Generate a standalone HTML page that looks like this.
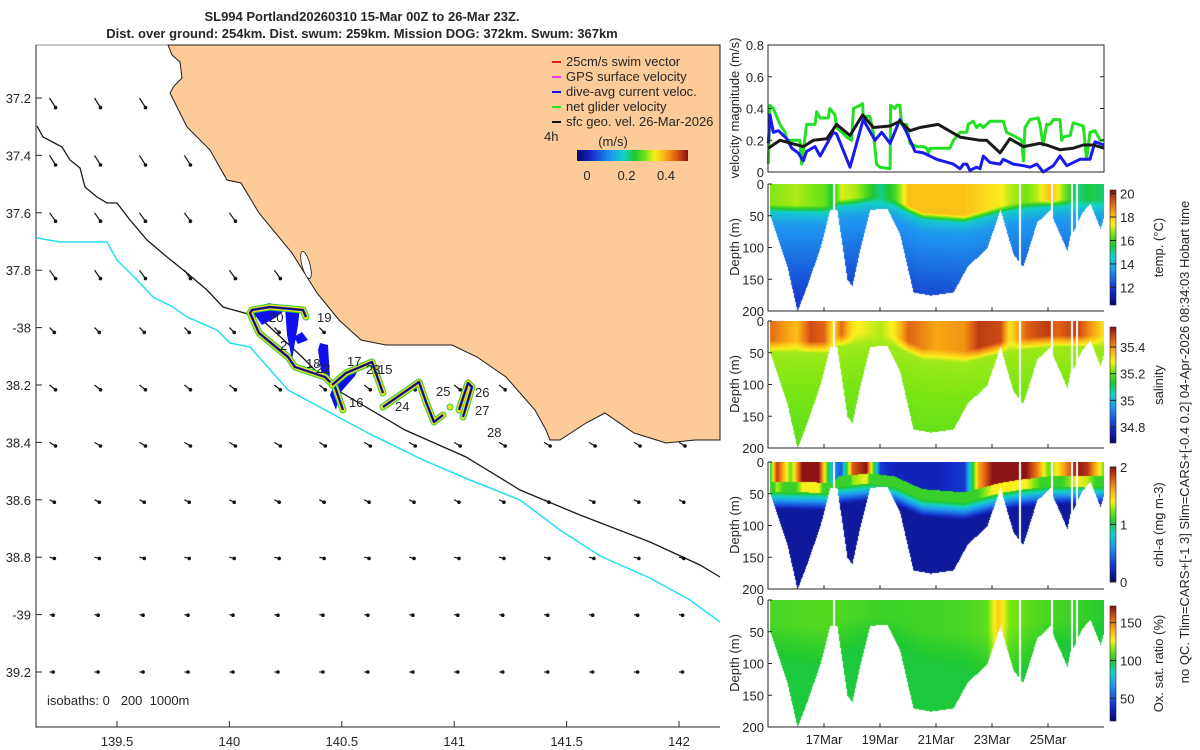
<!DOCTYPE html>
<html><head><meta charset="utf-8">
<style>
html,body{margin:0;padding:0;background:#fff;}
#root{position:relative;width:1200px;height:750px;overflow:hidden;font-family:"Liberation Sans",sans-serif;}
canvas{position:absolute;}
svg{position:absolute;left:0;top:0;}
text{font-family:"Liberation Sans",sans-serif;fill:#262626;font-size:13px;}
</style></head>
<body>
<div id="root">
<canvas id="hm0" width="336" height="127" style="left:768px;top:184px"></canvas>
<canvas id="hm1" width="336" height="127" style="left:768px;top:321px"></canvas>
<canvas id="hm2" width="336" height="127" style="left:768px;top:462px"></canvas>
<canvas id="hm3" width="336" height="127" style="left:768px;top:600px"></canvas>
<canvas id="cb0" width="6" height="115" style="left:1110px;top:190px"></canvas>
<canvas id="cb1" width="6" height="116" style="left:1110px;top:327px"></canvas>
<canvas id="cb2" width="6" height="115" style="left:1110px;top:467px"></canvas>
<canvas id="cb3" width="6" height="115" style="left:1110px;top:606px"></canvas>
<svg id="svg" width="1200" height="750" xmlns="http://www.w3.org/2000/svg">
<text x="362" y="21" text-anchor="middle" font-weight="bold">SL994 Portland20260310 15-Mar 00Z to 26-Mar 23Z.</text>
<text x="362" y="38" text-anchor="middle" font-weight="bold">Dist. over ground: 254km. Dist. swum: 259km. Mission DOG: 372km. Swum: 367km</text>
<g id="map"></g>
<g id="right"></g>
<text transform="translate(1189,442) rotate(-90)" text-anchor="middle" font-size="14">no QC. Tlim=CARS+[-1 3] Slim=CARS+[-0.4 0.2] 04-Apr-2026 08:34:03 Hobart time</text>
</svg>
<canvas id="cbm" width="111" height="11" style="left:577px;top:150px"></canvas>
</div>
<script>
// ---------- data ----------
const velGreenDays=[0.01,0.07,0.19,0.43,0.61,0.67,1.14,1.20,1.38,1.68,1.74,1.86,2.15,2.21,2.39,2.45,2.57,2.81,2.99,3.05,3.29,3.38,3.40,3.64,3.76,3.88,4.0,4.36,4.38,4.54,4.6,4.71,4.77,4.95,5.07,5.31,5.55,5.67,5.73,5.79,6.5,6.62,6.86,7.1,7.15,7.33,7.45,7.57,7.69,7.93,8.4,8.52,8.76,9.06,9.12,9.18,9.36,9.65,9.71,9.83,9.95,10.07,10.19,10.43,10.49,10.55,10.79,10.9,11.26,11.38,11.5,11.68,11.86,12.0];
const velGreen=[0.05,0.42,0.4,0.3,0.25,0.2,0.2,0.05,0.3,0.3,0.38,0.34,0.34,0.4,0.36,0.28,0.26,0.22,0.2,0.4,0.42,0.43,0.35,0.35,0.25,0.05,0.03,0.02,0.42,0.4,0.42,0.42,0.3,0.3,0.18,0.16,0.16,0.15,0.12,0.15,0.15,0.2,0.25,0.25,0.3,0.32,0.28,0.3,0.28,0.32,0.32,0.25,0.23,0.2,0.07,0.28,0.33,0.34,0.3,0.17,0.3,0.3,0.33,0.33,0.2,0.22,0.23,0.31,0.29,0.08,0.25,0.26,0.2,0.2];
const velBlueDays=[0.01,0.07,0.19,0.37,0.67,0.85,1.08,1.26,1.38,1.68,1.86,2.33,2.45,2.93,3.4,3.82,4.06,4.36,4.71,4.95,5.25,5.55,6.02,6.62,6.86,6.98,7.1,7.21,7.45,7.57,7.69,7.93,8.29,8.4,8.52,8.76,9.12,9.36,9.6,9.83,10.19,10.43,10.67,11.14,11.5,11.68,12.0];
const velBlue=[0.18,0.36,0.25,0.26,0.21,0.15,0.12,0.07,0.13,0.16,0.1,0.25,0.24,0.03,0.33,0.2,0.25,0.18,0.33,0.25,0.13,0.12,0.08,0.05,0.02,0.05,0.05,0.01,0.03,0.02,0.1,0.06,0.05,0.08,0.07,0.05,0.04,0.03,0.05,0.0,0.04,0.1,0.04,0.08,0.08,0.19,0.17];
const velBlackDays=[0.01,0.43,1.26,1.62,2.1,2.45,2.93,3.38,3.76,4.36,4.71,5.07,5.43,6.08,6.86,7.21,7.57,7.81,8.29,8.64,9.12,9.71,9.95,10.43,10.9,11.26,11.62,12.0];
const velBlack=[0.15,0.2,0.16,0.2,0.21,0.3,0.23,0.36,0.28,0.29,0.32,0.26,0.28,0.3,0.22,0.21,0.2,0.2,0.12,0.21,0.16,0.18,0.17,0.14,0.15,0.17,0.17,0.15];
const velTicks=[0,0.2,0.4,0.6,0.8];
const depthTicks=[0,50,100,150,200];
const dateTickDays=[2,4,6,8,10];
const dateTickLabels=['17Mar','19Mar','21Mar','23Mar','25Mar'];
const profDays=[0.0,0.07,0.68,1.04,1.39,1.86,2.21,2.46,2.82,3.0,3.29,3.64,4.25,4.71,5.18,5.79,6.61,7.11,7.82,8.29,8.75,9.1,9.6,10.07,10.18,10.68,10.79,10.89,11.21,11.5,11.86,12.0];
const profDepth=[35,50,130,200,160,100,40,40,150,160,100,40,38,80,170,175,170,130,100,40,110,130,60,40,55,105,80,75,45,30,70,50];
const gapDays=[0.0,2.33,8.97,10.12,10.85,11.02];
const mldDays=[0,2.3,2.5,3.6,4.5,5.5,7,8.3,9,10,12];
const mldDepth=[38,40,30,25,30,50,55,40,35,30,30];
const tempSurfDays=[0,1,2,2.3,2.6,3.2,4,4.5,5,7,8.3,8.6,9.2,9.6,10.1,10.3,11,11.4,12];
const tempSurf=[16.6,16.9,16.4,15.5,17.2,16.8,15.0,16,18.0,18.0,17.4,17,16.5,17,18.2,17.5,15,15.5,15.2];
const salSurfDays=[0,1,1.5,2,2.3,2.6,3,4,4.5,5,6,7,7.5,8.3,8.6,9.2,9.6,10,10.3,11,11.5,12];
const salSurf=[35.45,35.35,35.48,35.45,35.3,35.45,35.3,35.25,35.3,35.45,35.38,35.4,35.5,35.48,35.3,35.45,35.48,35.5,35.45,35.5,35.4,35.3];
const chlSurfDays=[0,0.3,0.8,1.2,1.8,2.3,2.6,3.0,3.5,4.0,4.5,5,6,7,7.5,8.0,8.5,9.2,9.6,10,10.3,11,11.4,12];
const chlSurf=[0.8,1.9,1.2,2.0,2.0,0.6,0.4,1.8,2.0,0.3,0.2,0.2,0.2,0.3,1.6,2.0,2.0,2.0,1.7,1.2,1.4,2.0,1.9,1.2];
const oxSurfDays=[0,2,4,6,7,7.8,8.2,8.6,9.2,10,11,12];
const oxSurf=[106,108,104,105,106,110,135,115,110,106,104,100];

// ---------- helpers ----------
function interp(xs,ys,x){if(x<=xs[0])return ys[0];for(let i=1;i<xs.length;i++){if(x<=xs[i]){const t=(x-xs[i-1])/(xs[i]-xs[i-1]||1);return ys[i-1]+t*(ys[i]-ys[i-1]);}}return ys[ys.length-1];}
const stops=[[0,[10,10,110]],[0.12,[20,40,200]],[0.3,[30,150,240]],[0.42,[20,210,200]],[0.52,[30,200,50]],[0.62,[120,230,20]],[0.7,[250,240,30]],[0.8,[250,170,20]],[0.9,[220,90,20]],[1,[140,20,20]]];
function cmap(t){t=Math.max(0,Math.min(1,t));for(let i=1;i<stops.length;i++){if(t<=stops[i][0]){const a=stops[i-1],b=stops[i];const f=(t-a[0])/(b[0]-a[0]);return [0,1,2].map(k=>Math.round(a[1][k]+f*(b[1][k]-a[1][k])));}}return stops[stops.length-1][1];}
const NS='http://www.w3.org/2000/svg';
function el(tag,attrs,parent){const e=document.createElementNS(NS,tag);for(const k in attrs)e.setAttribute(k,attrs[k]);parent.appendChild(e);return e;}
function txt(s,x,y,anchor,parent,extra){const t=el('text',Object.assign({x:x,y:y,'text-anchor':anchor||'start'},extra||{}),parent);t.textContent=s;return t;}

// ---------- right panels ----------
const X0=768,X1=1104,PXDAY=28;
const xDay=d=>X0+d*PXDAY;
const R=document.getElementById('right');
const VY0=172,VY1=45;
const yVel=v=>VY0-(v/0.8)*(VY0-VY1);
function line(days,vals,color,name,w){const pts=days.map((d,i)=>xDay(Math.min(d,12)).toFixed(1)+','+yVel(vals[i]).toFixed(1)).join(' ');const p=el('polyline',{points:pts,fill:'none',stroke:color,'stroke-width':w,'stroke-linejoin':'round'},R);}
line(velGreenDays,velGreen,'#22e022','net-glider-speed-line',3);
line(velBlueDays,velBlue,'#1a1aee','dive-avg-current-line',3);
line(velBlackDays,velBlack,'#1a1a1a','geostrophic-speed-line',3);
const vb=el('rect',{x:X0,y:VY1,width:X1-X0,height:VY0-VY1,fill:'none',stroke:'#262626','stroke-width':1},R);

velTicks.forEach(v=>{const y=yVel(v);el('line',{x1:X0,x2:X0+4,y1:y,y2:y,stroke:'#262626'},R);el('line',{x1:X1-4,x2:X1,y1:y,y2:y,stroke:'#262626'},R);const t=txt(String(v),764,y+5,'end',R,{'font-size':'13.5'});});
const vyl=txt('velocity magnitude (m/s)',0,0,'middle',R,{transform:'translate(739,108) rotate(-90)','font-size':'14'});


const panels=[
 {top:184,id:'hm0',cb:'cb0',lo:10.5,hi:20.3,ticks:[12,14,16,18,20],lab:'temp. (°C)',name:'temp'},
 {top:321,id:'hm1',cb:'cb1',lo:34.68,hi:35.55,ticks:[34.8,35,35.2,35.4],lab:'salinity',name:'salinity'},
 {top:462,id:'hm2',cb:'cb2',lo:0,hi:2,ticks:[0,1,2],lab:'chl-a (mg m-3)',name:'chl'},
 {top:600,id:'hm3',cb:'cb3',lo:20,hi:172,ticks:[50,100,150],lab:'Ox. sat. ratio (%)',name:'oxygen'}];
const cbTop={cb0:190,cb1:327,cb2:467,cb3:606},cbH={cb0:115,cb1:116,cb2:115,cb3:115};
function valueAt(p,day,d){
 const m=interp(mldDays,mldDepth,day);
 if(p===0){const s=interp(tempSurfDays,tempSurf,day);
  if(d<m-6)return s; if(d<m+6)return s+(14.4-s)*(d-(m-6))/12; if(d<m+25)return 14.4-(d-m-6)*0.9/19; return Math.max(12.0,13.5-(d-m-25)*1.3/100);}
 if(p===1){const s=interp(salSurfDays,salSurf,day);
  if(d<m-8)return s; if(d<m+10)return s+(35.24-s)*(d-(m-8))/18; return 35.24-(d-m-10)*0.05/150;}
 if(p===2){const s=interp(chlSurfDays,chlSurf,day);
  if(d<m-8)return s; if(d<m+8)return Math.max(1.1,s*0.7); if(d<m+35)return 1.1-(d-m-8)*0.95/27; return 0.12;}
 const s=interp(oxSurfDays,oxSurf,day);
 if(d<m)return s; return Math.max(98,s-(d-m)*0.15);
}
panels.forEach((P,pi)=>{
 const c=document.getElementById(P.id).getContext('2d');const img=c.createImageData(336,127);
 for(let x=0;x<336;x++){const day=x/PXDAY;const bot=interp(profDays,profDepth,day);
  let isGap=gapDays.some(g=>Math.abs(day-g)<0.04);
  for(let y=0;y<127;y++){const d=y/0.635;if(isGap||d>bot)continue;const v=valueAt(pi,day,d);const col=cmap((v-P.lo)/(P.hi-P.lo));const o=(y*336+x)*4;img.data[o]=col[0];img.data[o+1]=col[1];img.data[o+2]=col[2];img.data[o+3]=255;}}
 c.putImageData(img,0,0);
 const cc=document.getElementById(P.cb).getContext('2d');const h=cbH[P.cb];
 for(let y=0;y<h;y++){const col=cmap(1-y/(h-1));cc.fillStyle='rgb('+col.join(',')+')';cc.fillRect(0,y,6,1);}
 const yD=d=>P.top+d*0.635;
 const box=el('path',{d:`M${X0},${P.top} V${P.top+127} H${X1}`,fill:'none',stroke:'#262626'},R);
 
 depthTicks.forEach(dv=>{const y=yD(dv);el('line',{x1:X0,x2:X0+4,y1:y,y2:y,stroke:'#262626'},R);const t=txt(String(dv),764,y+5,'end',R,{'font-size':'13.5'});});
 dateTickDays.forEach(dd=>{el('line',{x1:xDay(dd),x2:xDay(dd),y1:P.top+127,y2:P.top+123,stroke:'#262626'},R);});
 const yl=txt('Depth (m)',0,0,'middle',R,{transform:`translate(739,${P.top+63}) rotate(-90)`,'font-size':'14'});
 
 const ct=cbTop[P.cb];
 P.ticks.forEach(tv=>{const y=ct+h-(tv-P.lo)/(P.hi-P.lo)*h;el('line',{x1:1110,x2:1116,y1:y,y2:y,stroke:'#262626'},R);const t=txt(String(tv),1120,y+5,'start',R,{'font-size':'14'});});
 el('rect',{x:1110,y:ct,width:6,height:h,fill:'none',stroke:'#262626','stroke-width':0.6},R);
 const cl=txt(P.lab,0,0,'middle',R,{transform:`translate(1163,${ct+h/2}) rotate(-90)`,'font-size':'14'});
 
});
dateTickDays.forEach((dd,i)=>{const t=txt(dateTickLabels[i],xDay(dd),744,'middle',R,{'font-size':'14'});});

// ---------- map ----------
const M=document.getElementById('map');
const lonX=lon=>117+(lon-139.5)*224.8;
const latY=lat=>98+(lat-37.2)*287;
const coast=[[168,45],[172,55],[180,62],[182,78],[174,86],[170,93],[187,127],[210,150],[227,180],[241,183],[259,213],[292,253],[317,293],[339,320],[361,340],[386,345],[452,345],[477,357],[506,377],[535,410],[546,430],[550,440],[560,440],[586,423],[605,413],[634,433],[666,443],[695,440],[720,440],[720,45]];
const land=el('polygon',{points:coast.map(p=>p.join(',')).join(' '),fill:'#fccb98',stroke:'#1a1a1a','stroke-width':1},M);

el('ellipse',{cx:306,cy:265,rx:4,ry:14,fill:'#fff',stroke:'#1a1a1a','stroke-width':0.8,transform:'rotate(-15 306 265)'},M);
const iso200=[[37,126],[43,137],[62,147],[70,160],[80,168],[85,187],[97,197],[107,203],[117,203],[130,220],[147,240],[167,257],[187,273],[207,290],[223,307],[259,317],[300,355],[332,387],[405,430],[466,457],[520,490],[580,515],[650,542],[700,565],[720,577]];
const p2=el('polyline',{points:iso200.map(p=>p.join(',')).join(' '),fill:'none',stroke:'#1a1a1a','stroke-width':1.3},M);

const iso1000=[[37,238],[60,242],[107,242],[117,260],[137,280],[153,297],[173,307],[187,317],[217,330],[230,343],[250,347],[288,390],[368,433],[423,460],[470,480],[520,500],[560,530],[600,556],[650,578],[690,600],[720,622]];
const p3=el('polyline',{points:iso1000.map(p=>p.join(',')).join(' '),fill:'none',stroke:'#22e0ee','stroke-width':1.5},M);

const gridLons=[139.2,139.4,139.6,139.8,140.0,140.2,140.4,140.6,140.8,141.0,141.2,141.4,141.6,141.8,142.0];
const gridLats=[37.0,37.2,37.4,37.6,37.8,38.0,38.2,38.4,38.6,38.8,39.0,39.2];
const rowU=[0.5,0.5,0.5,0.5,0.5,0.4,0.5,0.5,0.4,0.4,0.3,0.3];
const rowV=[0.8,0.8,0.8,0.7,0.7,0.4,0.4,0.3,0.2,0.1,0.05,0.0];
const landPoly=document.querySelector('polygon');
gridLats.forEach((lat,r)=>gridLons.forEach(lon=>{
 const x=lonX(lon),y=latY(lat);if(y<44||x>718)return;
 const pt=document.getElementById('svg').createSVGPoint();pt.x=x;pt.y=y;if(landPoly.isPointInFill(pt))return;
 const x2=x+rowU[r]*12,y2=y+rowV[r]*12;
 const g=el('g',{},M);
 el('line',{x1:x,y1:y,x2:x2,y2:y2,stroke:'#111','stroke-width':1.2},g);el('circle',{cx:x2,cy:y2,r:1.8,fill:'#111'},g);
}));
const track=[
 [[306,317],[303,310],[270,307],[252,310],[250,313],[259,333],[288,357],[295,367],[325,377],[335,387],[343,410]],
 [[332,385],[346,373],[372,362],[383,393]],
 [[383,407],[419,382],[426,402],[434,422],[443,415]],
 [[459,410],[468,383],[472,387],[463,417]]];
const blueBlobs=[[[250,308],[270,303],[283,312],[275,318],[262,325]],[[285,308],[300,307],[298,325],[292,360],[287,335]],[[320,343],[328,345],[330,380],[322,378],[318,350]],[[335,382],[346,371],[360,366],[355,376],[340,393],[336,410],[330,395]],[[294,337],[302,332],[308,340],[298,344]],[[458,410],[466,382],[472,386],[466,412]]];
blueBlobs.forEach(b=>{const p=el('polygon',{points:b.map(q=>q.join(',')).join(' '),fill:'#1010ee'},M);});
track.forEach(seg=>{const pts=seg.map(q=>q.join(',')).join(' ');
 const g=el('g',{},M);
 el('polyline',{points:pts,fill:'none',stroke:'#30d030','stroke-width':7,'stroke-linejoin':'round','stroke-linecap':'round'},g);
 el('polyline',{points:pts,fill:'none',stroke:'#f0e020','stroke-width':5,'stroke-linejoin':'round','stroke-linecap':'round'},g);
 el('polyline',{points:pts,fill:'none',stroke:'#2020e0','stroke-width':2.5,'stroke-linejoin':'round'},g);
 el('polyline',{points:pts,fill:'none',stroke:'#111','stroke-width':1},g);});
el('circle',{cx:450,cy:407,r:3,fill:'#f0e020',stroke:'#30d030'},M);
const dayLabels=['19','20','2','18','22','17','23','15','16','24','25','26','27','28'];
const dayLabelX=[325,277,288,314,324,355,374,386,357,403,444,483,483,495];
const dayLabelY=[317,317,345,363,368,361,369,369,402,406,391,392,410,432];
dayLabels.forEach((s,i)=>{const t=txt(s,dayLabelX[i]-8,dayLabelY[i]+5,'start',M,{'font-size':'14'});});
const mb=el('path',{d:'M36,45 V727 H720',fill:'none',stroke:'#262626'},M);

el('line',{x1:36,x2:720,y1:45,y2:45,stroke:'#262626','stroke-width':0.6},M);
const lonTicks=[139.5,140,140.5,141,141.5,142];
lonTicks.forEach(l=>{const x=lonX(l);el('line',{x1:x,x2:x,y1:727,y2:721,stroke:'#262626'},M);const t=txt(String(l),x,746,'middle',M,{'font-size':'14'});});
const latTicks=[37.2,37.4,37.6,37.8,38,38.2,38.4,38.6,38.8,39,39.2];
const latTickLabels=['37.2','37.4','37.6','37.8','-38','38.2','38.4','38.6','38.8','-39','39.2'];
latTicks.forEach((l,i)=>{const y=latY(l);el('line',{x1:36,x2:42,y1:y,y2:y,stroke:'#262626'},M);const t=txt(latTickLabels[i],31,y+5,'end',M,{'font-size':'14'});});
const legColors=['#e02020','#ff30ff','#1010ee','#22e022','#111'];
const legTexts=['25cm/s swim vector','GPS surface velocity','dive-avg current veloc.','net glider velocity','sfc geo. vel. 26-Mar-2026'];
legTexts.forEach((s,i)=>{const y=62+i*15;const g=el('g',{},M);
 el('line',{x1:552,x2:561,y1:y,y2:y,stroke:legColors[i],'stroke-width':2},g);txt(s,566,y+4,'start',g,{'font-size':'12.5'});});
txt('4h',544,141,'start',M,{'font-size':'14'});
txt('(m/s)',613,146,'middle',M,{'font-size':'16'});
const cm=document.getElementById('cbm').getContext('2d');for(let x=0;x<111;x++){const col=cmap(x/110);cm.fillStyle='rgb('+col.join(',')+')';cm.fillRect(x,0,1,11);}
const speedTicks=[0,0.2,0.4];
speedTicks.forEach(v=>{const x=587+v/0.2*39.5;const t=txt(String(v),x,180,'middle',M,{'font-size':'14'});});
const iso=txt('isobaths: 0   200  1000m',47,705,'start',M,{'font-size':'14'});iso.setAttribute('style','white-space:pre');

</script>
</body></html>
